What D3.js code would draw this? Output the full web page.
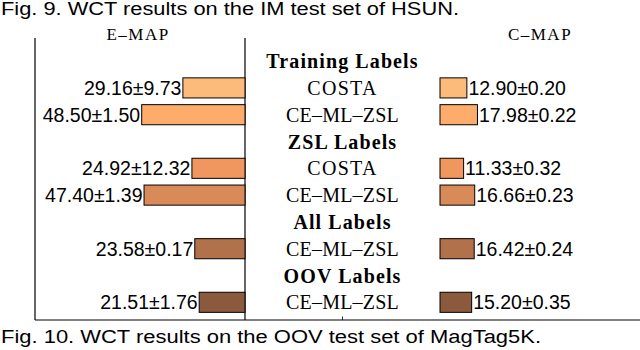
<!DOCTYPE html>
<html><head><meta charset="utf-8">
<script src="https://cdn.jsdelivr.net/npm/d3@7"></script>
<style>
html,body{margin:0;padding:0;background:#fff;}
svg{display:block;}
</style></head>
<body>
<svg id="c" width="640" height="350"></svg>
<script>
const groups  = ["Training Labels","Training Labels","ZSL Labels","ZSL Labels","All Labels","OOV Labels"];
const methods = ["COSTA","CE–ML–ZSL","COSTA","CE–ML–ZSL","CE–ML–ZSL","CE–ML–ZSL"];
const eMap = [29.16,48.50,24.92,47.40,23.58,21.51];
const eStd = [9.73,1.50,12.32,1.39,0.17,1.76];
const cMap = [12.90,17.98,11.33,16.66,16.42,15.20];
const cStd = [0.20,0.22,0.32,0.23,0.24,0.35];
const colors = ["#fdbb7b","#fdac6c","#f0965f","#d98a59","#b1714a","#8b5a3c"];

const rows = [];
groups.forEach((g,i)=>{
  if (i===0 || groups[i-1]!==g) rows.push({type:"h", label:g});
  rows.push({type:"b", label:methods[i], i});
});

const svg = d3.select("#c");
const serif = "'Liberation Serif','DejaVu Serif',serif";
const sans = "'Liberation Sans',Arial,sans-serif";

const y = d3.scaleBand().domain(d3.range(rows.length)).range([47.7,315.7]).paddingInner(0.25).paddingOuter(0.125);
const xL = d3.scaleLinear().domain([0,98.6]).range([245,35]);
const xR = d3.scaleLinear().domain([0,96]).range([440,640]);

// captions
svg.append("text").attr("x",1).attr("y",15).attr("font-family",sans).attr("font-size",18)
  .attr("textLength",458).attr("lengthAdjust","spacingAndGlyphs")
  .text("Fig. 9. WCT results on the IM test set of HSUN.");
svg.append("text").attr("x",1).attr("y",343).attr("font-family",sans).attr("font-size",18)
  .attr("textLength",540).attr("lengthAdjust","spacingAndGlyphs")
  .text("Fig. 10. WCT results on the OOV test set of MagTag5K.");

// panel titles
svg.append("text").attr("x",138).attr("y",40).attr("text-anchor","middle").attr("font-family",serif).attr("font-size",17)
  .attr("letter-spacing",1.5).text("E–MAP");
svg.append("text").attr("x",540).attr("y",40).attr("text-anchor","middle").attr("font-family",serif).attr("font-size",17)
  .attr("letter-spacing",1.5).text("C–MAP");

// frame lines
const yBot = 320, yTop = 38;
svg.append("line").attr("x1",xL(98.6)).attr("x2",xL(98.6)).attr("y1",yTop).attr("y2",yBot).attr("stroke","#000").attr("stroke-width",1.2);
svg.append("line").attr("x1",xL(0)).attr("x2",xL(0)).attr("y1",yTop).attr("y2",yBot).attr("stroke","#000").attr("stroke-width",1.2);
svg.append("line").attr("x1",xL(98.6)).attr("x2",640).attr("y1",yBot).attr("y2",yBot).attr("stroke","#000").attr("stroke-width",1.2);
svg.append("line").attr("x1",342.5).attr("x2",342.5).attr("y1",316.5).attr("y2",yBot).attr("stroke","#000").attr("stroke-width",0.8);

const bars = rows.map((r,k)=>({...r,k})).filter(r=>r.type==="b");
const heads = rows.map((r,k)=>({...r,k})).filter(r=>r.type==="h");

svg.selectAll("rect.l").data(bars).join("rect").attr("class","l")
  .attr("x",d=>xL(eMap[d.i])).attr("width",d=>xL(0)-xL(eMap[d.i]))
  .attr("y",d=>y(d.k)).attr("height",y.bandwidth())
  .attr("fill",d=>colors[d.i]).attr("stroke","#000").attr("stroke-width",1);
svg.selectAll("rect.r").data(bars).join("rect").attr("class","r")
  .attr("x",xR(0)).attr("width",d=>xR(cMap[d.i])-xR(0))
  .attr("y",d=>y(d.k)).attr("height",y.bandwidth())
  .attr("fill",d=>colors[d.i]).attr("stroke","#000").attr("stroke-width",1);

svg.selectAll("text.vl").data(bars).join("text").attr("class","vl")
  .attr("x",d=>xL(eMap[d.i])-1.5).attr("y",d=>y(d.k)+y.bandwidth()/2).attr("dy","0.36em")
  .attr("text-anchor","end").attr("font-family",sans).attr("font-size",19.5)
  .text(d=>eMap[d.i].toFixed(2)+"±"+eStd[d.i].toFixed(2));
svg.selectAll("text.vr").data(bars).join("text").attr("class","vr")
  .attr("x",d=>xR(cMap[d.i])+1.5).attr("y",d=>y(d.k)+y.bandwidth()/2).attr("dy","0.36em")
  .attr("text-anchor","start").attr("font-family",sans).attr("font-size",19.5)
  .text(d=>cMap[d.i].toFixed(2)+"±"+cStd[d.i].toFixed(2));

const cx = 342.5;
svg.selectAll("text.m").data(bars).join("text").attr("class","m")
  .attr("x",cx).attr("y",d=>y(d.k)+y.bandwidth()/2).attr("dy","0.35em")
  .attr("text-anchor","middle").attr("font-family",serif).attr("font-size",20)
  .attr("letter-spacing",d=>d.label==="COSTA"?1.3:0.2)
  .text(d=>d.label);
svg.selectAll("text.h").data(heads).join("text").attr("class","h")
  .attr("x",cx).attr("y",d=>y(d.k)+y.bandwidth()/2).attr("dy","0.35em")
  .attr("text-anchor","middle").attr("font-family",serif).attr("font-size",20).attr("font-weight","bold")
  .attr("letter-spacing",1.1)
  .text(d=>d.label);
</script>
</body></html>
